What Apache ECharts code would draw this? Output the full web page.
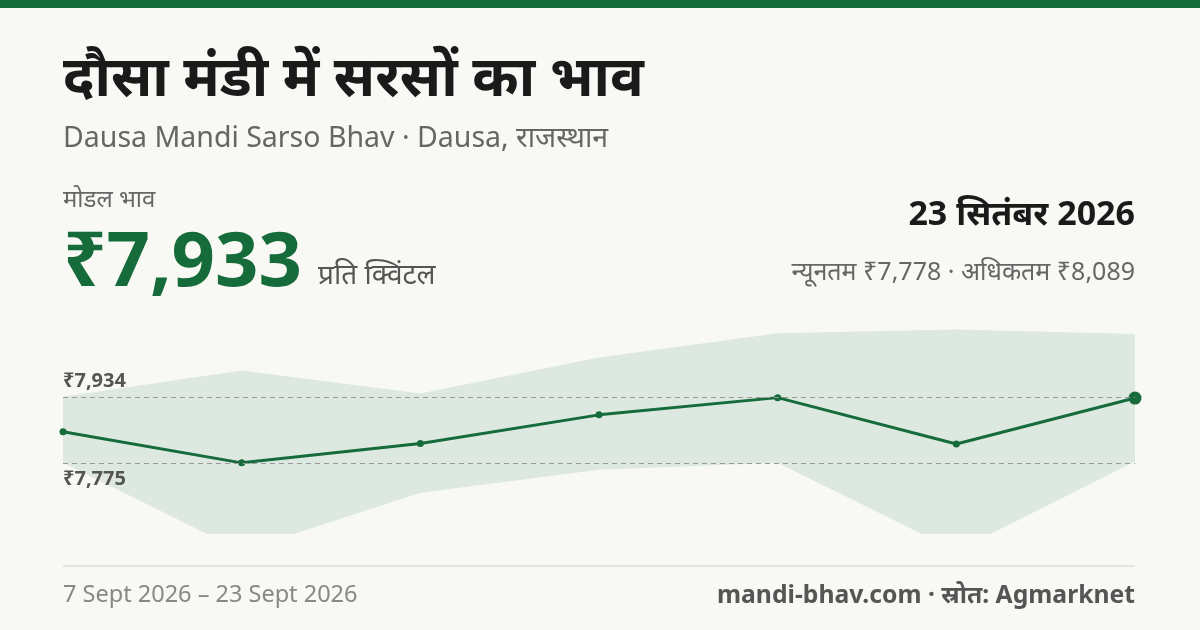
<!DOCTYPE html>
<html><head><meta charset="utf-8">
<script src="https://cdn.jsdelivr.net/npm/echarts@6/dist/echarts.min.js"></script>
<style>html,body{margin:0;padding:0;background:#f8f9f4}#c{width:1200px;height:630px}</style>
</head><body><div id="c"></div>
<script>
// data
const dates = ['7 Sept', '10 Sept', '13 Sept', '16 Sept', '19 Sept', '21 Sept', '23 Sept'];
const modal = [7851, 7775, 7822, 7892, 7934, 7821, 7933];
const low = [7775, 7560, 7702, 7758, 7775, 7560, 7778];
const high = [7936, 8000, 7944, 8032, 8091, 8100, 8089];
const refLines = [7934, 7775];

const green = '#156b3a';
const font = "'Noto Sans', sans-serif";
const chart = echarts.init(document.getElementById('c'));

const txt = (left, top, text, size, color, weight, align) => ({
  type: 'text', left: align === 'right' ? null : left, right: align === 'right' ? left : null, top,
  style: { text, fontSize: size, fill: color, fontWeight: weight || 'normal', fontFamily: font }
});

chart.setOption({
  backgroundColor: '#f8f9f4',
  animation: false,
  grid: { left: 63, right: 65, top: 300, bottom: 97 },
  xAxis: { type: 'category', data: dates, boundaryGap: false, show: false },
  yAxis: { type: 'value', min: 7604, max: 8172, show: false },
  graphic: [
    { type: 'rect', left: 0, top: 0, shape: { width: 1200, height: 8 }, style: { fill: green } },
    txt(63, 52, 'दौसा मंडी में सरसों का भाव', 56, '#1a1a1a', 'bold'),
    txt(63, 124, 'Dausa Mandi Sarso Bhav · Dausa, राजस्थान', 28.5, '#666'),
    txt(63, 188, 'मोडल भाव', 24, '#666'),
    txt(63, 226, '₹7,933', 76, green, 'bold'),
    txt(318, 262, 'प्रति क्विंटल', 28, '#555'),
    txt(65, 198, '23 सितंबर 2026', 34, '#1a1a1a', 'bold', 'right'),
    txt(65, 260, 'न्यूनतम ₹7,778 · अधिकतम ₹8,089', 25, '#666', 'normal', 'right'),
    { type: 'line', shape: { x1: 63, y1: 566, x2: 1135, y2: 566 }, style: { stroke: '#dcdcd6', lineWidth: 1.5 } },
    txt(63, 583, '7 Sept 2026 – 23 Sept 2026', 23.5, '#888'),
    txt(65, 583, 'mandi-bhav.com · स्रोत: Agmarknet', 24.7, '#555', 'bold', 'right')
  ],
  series: [
    { type: 'line', data: low, stack: 'band', symbol: 'none', lineStyle: { opacity: 0 }, clip: true },
    {
      type: 'line', data: high.map((h, i) => h - low[i]), stack: 'band', symbol: 'none',
      lineStyle: { opacity: 0 }, areaStyle: { color: '#dde8e0', opacity: 1 }, clip: true
    },
    {
      type: 'line', data: modal.map((v, i) => i === modal.length - 1 ? { value: v, symbolSize: 13 } : v),
      symbol: 'circle', symbolSize: 7, itemStyle: { color: green },
      lineStyle: { color: green, width: 3 },
      markLine: {
        silent: true, symbol: 'none',
        lineStyle: { color: '#999', type: [5, 4], width: 1 },
        data: refLines.map((v, i) => ({
          yAxis: v,
          label: {
            formatter: '₹' + v.toLocaleString('en-IN'), position: i === 0 ? 'insideStartTop' : 'insideStartBottom',
            color: '#555', fontWeight: 'bold', fontSize: 20, fontFamily: font, distance: [0, 6]
          }
        }))
      }
    }
  ]
});
</script></body></html>
